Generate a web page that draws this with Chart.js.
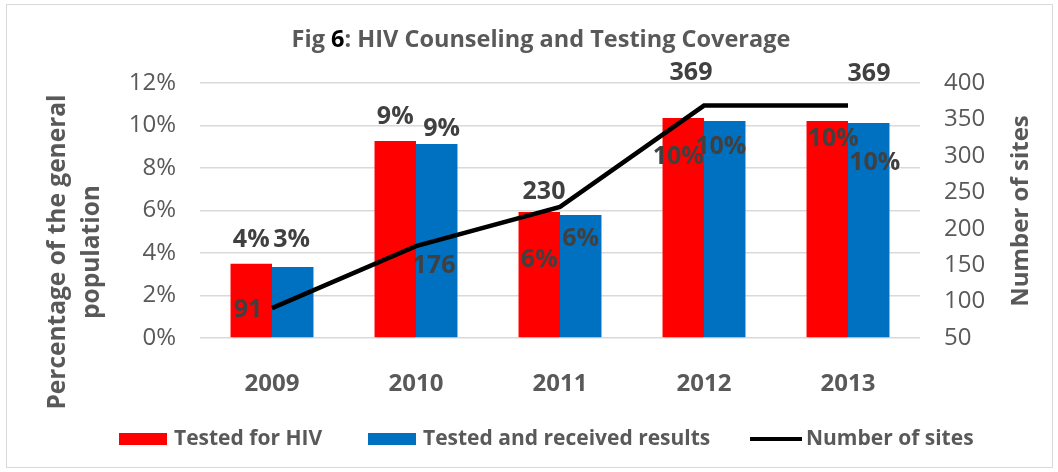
<!DOCTYPE html>
<html>
<head>
<meta charset="utf-8">
<script src="https://cdn.jsdelivr.net/npm/chart.js@4.4.1/dist/chart.umd.min.js"></script>
<style>
  html, body { margin: 0; padding: 0; background: #ffffff; }
  #wrap { position: relative; width: 1058px; height: 472px; }
  canvas { display: block; }
</style>
</head>
<body>
<div id="wrap"><canvas id="c" width="1058" height="472"></canvas></div>
<script>
// ---------- DATA ----------
const categories = ['2009', '2010', '2011', '2012', '2013'];
const testedForHIV = [3.5, 9.27, 5.93, 10.35, 10.21];        // % of general population
const testedReceived = [3.34, 9.13, 5.79, 10.21, 10.12];     // % of general population
const numberOfSites = [91, 176, 230, 369, 369];
const seriesNames = ['Tested for HIV', 'Tested and received results', 'Number of sites'];
const pctAxis = { min: 0, max: 12, step: 2 };
const sitesAxis = { min: 50, max: 400, step: 50 };
const titleParts = ['Fig ', '6', ': HIV Counseling and Testing Coverage'];
const leftTitleLines = ['Percentage of the general', 'population'];
const rightTitle = 'Number of sites';

// ---------- PRESENTATION ----------
const GRAY = '#595959';
const LABEL_GRAY = '#404040';
const FONT = '"Open Sans", "Liberation Sans", sans-serif';
// data-label offsets (px) relative to bar top / line point, per dataset
const labelOffsets = [
  [[0, -24], [0, -24], [0, 48], [-5, 39], [6, 18]],
  [[-1, -27], [5, -15], [0, 24], [-4, 26], [6, 40]],
  [[-24, 2], [18, 20], [-16, -15], [-13, -33], [21, -32]]
];

const decorPlugin = {
  id: 'decor',
  afterDraw(chart) {
    const ctx = chart.ctx;
    ctx.save();
    // outer border
    ctx.strokeStyle = '#d9d9d9';
    ctx.lineWidth = 1;
    ctx.strokeRect(6.5, 4.5, 1046, 463);

    // title with black "6"
    ctx.font = 'bold 23.5px ' + FONT;
    ctx.textBaseline = 'alphabetic';
    ctx.textAlign = 'left';
    const widths = titleParts.map(t => ctx.measureText(t).width);
    const total = widths.reduce((a, b) => a + b, 0);
    let x = 541 - total / 2;
    titleParts.forEach((t, i) => {
      ctx.fillStyle = i === 1 ? '#000000' : GRAY;
      ctx.fillText(t, x, 47);
      x += widths[i];
    });

    // left axis title (two lines, rotated)
    ctx.font = 'bold 24.5px ' + FONT;
    ctx.fillStyle = GRAY;
    ctx.textAlign = 'center';
    ctx.textBaseline = 'middle';
    const leftX = [58, 92];
    leftTitleLines.forEach((t, i) => {
      ctx.save();
      ctx.translate(leftX[i], 252);
      ctx.rotate(-Math.PI / 2);
      ctx.fillText(t, 0, 0);
      ctx.restore();
    });
    // right axis title
    ctx.font = 'bold 24px ' + FONT;
    ctx.save();
    ctx.translate(1021, 211);
    ctx.rotate(-Math.PI / 2);
    ctx.fillText(rightTitle, 0, 0);
    ctx.restore();

    // data labels
    ctx.font = 'bold 25px ' + FONT;
    ctx.fillStyle = LABEL_GRAY;
    chart.data.datasets.forEach((ds, di) => {
      const meta = chart.getDatasetMeta(di);
      meta.data.forEach((el, i) => {
        const v = ds.data[i];
        const txt = ds.type === 'line' ? String(v) : Math.round(v) + '%';
        const off = labelOffsets[di][i];
        ctx.fillText(txt, el.x + off[0], el.y + off[1]);
      });
    });

    // legend
    ctx.font = 'bold 21px ' + FONT;
    ctx.textAlign = 'left';
    const legendX = [119, 368, 750];
    const legendY = 439;
    chart.data.datasets.forEach((ds, di) => {
      const lx = legendX[di];
      if (ds.type === 'line') {
        ctx.strokeStyle = ds.borderColor;
        ctx.lineWidth = 4;
        ctx.beginPath();
        ctx.moveTo(lx, legendY);
        ctx.lineTo(lx + 52, legendY);
        ctx.stroke();
        ctx.fillStyle = GRAY;
        ctx.fillText(ds.label, lx + 56, legendY);
      } else {
        ctx.fillStyle = ds.backgroundColor;
        ctx.fillRect(lx, legendY - 6, 48, 12);
        ctx.fillStyle = GRAY;
        ctx.fillText(ds.label, lx + 55, legendY);
      }
    });
    ctx.restore();
  }
};

new Chart(document.getElementById('c'), {
  type: 'bar',
  data: {
    labels: categories,
    datasets: [
      { type: 'bar', label: seriesNames[0], data: testedForHIV, backgroundColor: '#ff0000',
        yAxisID: 'y', order: 1, barPercentage: 1, categoryPercentage: 0.576 },
      { type: 'bar', label: seriesNames[1], data: testedReceived, backgroundColor: '#0070c0',
        yAxisID: 'y', order: 1, barPercentage: 1, categoryPercentage: 0.576 },
      { type: 'line', label: seriesNames[2], data: numberOfSites, borderColor: '#000000',
        backgroundColor: '#000000', borderWidth: 4.5, pointRadius: 0, tension: 0,
        yAxisID: 'y1', order: 0 }
    ]
  },
  options: {
    responsive: false,
    animation: false,
    devicePixelRatio: 1,
    layout: { padding: { top: 83, left: 0, right: 0, bottom: 0 } },
    plugins: { legend: { display: false }, title: { display: false }, tooltip: { enabled: false } },
    scales: {
      x: {
        grid: { display: false },
        border: { display: false },
        ticks: { color: GRAY, font: { family: FONT, size: 24, weight: 'bold' }, padding: 24 },
        afterFit(s) { s.height = 134; }
      },
      y: {
        position: 'left',
        min: pctAxis.min, max: pctAxis.max,
        ticks: { stepSize: pctAxis.step, color: GRAY, font: { family: FONT, size: 24 }, padding: 24,
                 callback: v => v + '%' },
        grid: { color: '#d9d9d9', lineWidth: 1.5, drawTicks: false },
        border: { display: false },
        afterFit(s) { s.width = 200; }
      },
      y1: {
        position: 'right',
        min: sitesAxis.min, max: sitesAxis.max,
        ticks: { stepSize: sitesAxis.step, color: GRAY, font: { family: FONT, size: 24 }, padding: 24 },
        grid: { display: false, drawTicks: false },
        border: { display: false },
        afterFit(s) { s.width = 138; }
      }
    }
  },
  plugins: [decorPlugin]
});
</script>
</body>
</html>
